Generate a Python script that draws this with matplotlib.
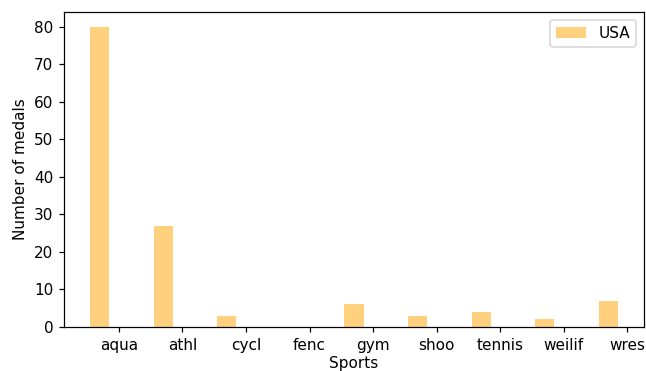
import numpy as np
import matplotlib
matplotlib.use("Agg")
import matplotlib.pyplot as plt

# Medallas de USA por deporte
deportes = ["aqua", "athl", "cycl", "fenc", "gym", "shoo", "tennis", "weilif", "wres"]
medallas_usa = [80, 27, 3, 0, 6, 3, 4, 2, 7]

x = np.arange(len(deportes))
ancho = 0.3

dpi = 110
fig = plt.figure(figsize=(646 / dpi, 371 / dpi), dpi=dpi)
ax = fig.add_axes([0.099, 0.119, 0.898, 0.849])

ax.bar(x - ancho, medallas_usa, width=ancho, color="orange", alpha=0.5, label="USA")

ax.set_xticks(x)
ax.set_xticklabels(deportes)
ax.set_xlabel("Sports", labelpad=2)  # etiqueta del eje x.
ax.set_ylabel("Number of medals")  # etiqueta del eje y.
ax.legend(loc="upper right")

fig.savefig("out.png", dpi=dpi)
